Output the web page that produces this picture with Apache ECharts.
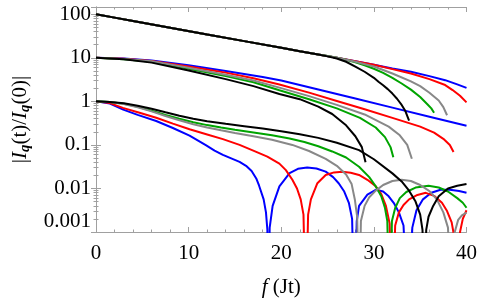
<!DOCTYPE html>
<html><head><meta charset="utf-8">
<script src="https://cdn.jsdelivr.net/npm/echarts@6/dist/echarts.min.js"></script>
<style>html,body{margin:0;padding:0;background:#fff}#c{width:480px;height:303px}</style>
</head><body><div id="c"></div>
<script>
// x tick labels and y tick labels
var xTickLabels = ['0','10','20','30','40'];
var yTickLabels = ['0.001','0.01','0.1','1','10','100'];
var seriesColors = ['#0000ff','#ff0000','#00a400','#888888','#000000'];

// top group (starts at 100)
var topCommon = [[0,100],[2,83.8],[4,70.2],[8,49.2],[12,34.5],[16,24.2],[20,17.0],[22,14.2],[24,11.9]];
var topBlue  = [[26,10.0],[28,8.32],[30,6.92],[32,5.69],[34,4.79],[36,3.80],[37.7,3.07],[39,2.45],[40,2.04]];
var topRed   = [[26,10.0],[28,8.32],[30,6.92],[32,5.50],[34,4.37],[36,3.24],[37.7,2.37],[38.5,1.82],[39.3,1.35],[40,0.95]];
var topGreen = [[25,11.0],[26,10.0],[27,9.02],[28,7.94],[29,6.76],[30,5.62],[31,4.52],[32,3.47],[33,2.57],[34,1.86],[35,1.26],[35.8,0.85],[36.2,0.69],[36.5,0.55]];
var topGray  = [[26,10.0],[28,8.13],[30,6.31],[32,4.37],[34,2.88],[35,2.24],[36,1.58],[37,1.05],[37.5,0.74],[37.9,0.48]];
var topBlack = [[25,10.8],[26,9.66],[27,8.13],[28,6.31],[29,4.79],[30,3.47],[30.5,2.82],[31,2.34],[31.5,1.91],[32,1.51],[32.5,1.15],[33,0.83],[33.4,0.60],[33.8,0.363]];

// middle group (starts at 10)
var midBlue  = [[0,10],[3,9.66],[6,8.71],[10,6.76],[14,5.01],[18,3.63],[20,3.02],[24,1.87],[28,1.16],[32,0.718],[36,0.445],[40,0.275]];
var midRed   = [[0,10],[3,9.55],[6,8.51],[10,6.31],[14,4.57],[17,3.39],[19.8,2.45],[23,1.585],[26,1.023],[29,0.661],[32,0.417],[35,0.263],[36.5,0.191],[37.5,0.138],[38.2,0.1],[38.6,0.069]];
var midGreen = [[0,10],[3,9.33],[6,8.13],[10,5.62],[14,3.80],[17,2.75],[19.8,1.80],[23,1.122],[26,0.692],[28.5,0.417],[30.2,0.251],[31.2,0.151],[31.8,0.089],[32.1,0.052]];
var midGray  = [[0,10],[3,9.44],[6,8.32],[10,5.89],[14,4.07],[17,3.02],[19.8,2.07],[23,1.318],[26,0.832],[29,0.501],[31.6,0.263],[32.8,0.166],[33.6,0.1],[34.1,0.048]];
var midBlack = [[0,10],[3,9.23],[6,7.76],[10,5.13],[14,3.24],[17,2.24],[19.8,1.48],[22,1.122],[24,0.759],[25.5,0.513],[27,0.282],[28,0.158],[28.7,0.089],[29.1,0.040]];

// bottom group (starts at 1)
var botBlue = [[0,1],[1.5,0.891],[2.94,0.647],[4.5,0.49],[6.5,0.355],[8.3,0.245],[10.1,0.163],[11.9,0.0977],[12.8,0.0741],[13.7,0.0589],[14.6,0.049],[15.5,0.0407],[16.2,0.0331],[16.8,0.0251],[17.3,0.017],[17.6,0.0117],[18.1,0.00562],[18.35,0.00282],[18.5,0.00113],[18.6,0.00001],[18.75,0.00126],[19.07,0.00398],[19.8,0.0112],[20.9,0.0224],[21.8,0.0282],[22.8,0.0303],[23.8,0.0288],[24.8,0.0243],[25.6,0.0182],[26.2,0.0132],[26.8,0.0085],[27.3,0.00468],[27.65,0.002],[27.9,0.00001],[28.15,0.00178],[28.4,0.00398],[29.3,0.00724],[30.2,0.00933],[31,0.0085],[31.6,0.0066],[32.2,0.00447],[32.7,0.00282],[33.2,0.00141],[33.7,0.00001],[34.15,0.00126],[34.6,0.00316],[35.3,0.00562],[36.2,0.00794],[37.2,0.00933],[38.2,0.00933],[39.2,0.0087],[40,0.00794]];
var botRed = [[0,1],[1.5,0.912],[2.9,0.708],[4.7,0.55],[6.5,0.421],[8.3,0.309],[10.1,0.229],[12,0.174],[13.7,0.136],[15.5,0.1],[17.3,0.0692],[18.5,0.0537],[19.8,0.0372],[20.5,0.0263],[21.2,0.0158],[21.7,0.01],[22.1,0.00562],[22.4,0.00251],[22.65,0.00001],[22.9,0.00251],[23.2,0.00562],[23.9,0.0132],[24.8,0.0204],[25.7,0.0234],[26.6,0.0243],[27.5,0.0229],[28.4,0.0204],[29.3,0.0158],[30.2,0.0112],[30.8,0.00741],[31.3,0.00398],[31.7,0.00158],[32.0,0.00001],[32.3,0.00141],[32.7,0.00282],[33.2,0.00417],[33.8,0.00562],[34.7,0.00708],[35.6,0.00794],[36.5,0.00676],[37.35,0.00468],[37.9,0.00302],[38.4,0.00166],[38.75,0.00063],[39.0,0.00001],[39.3,0.001],[39.6,0.002],[40,0.00316]];
var botGreen = [[0,1],[1.5,0.966],[3,0.881],[4.5,0.75],[6,0.61],[7.5,0.49],[9,0.398],[10.5,0.331],[12,0.285],[13.5,0.251],[15,0.224],[17,0.193],[19,0.166],[20.9,0.141],[22.5,0.117],[24,0.0933],[25.5,0.0708],[27,0.0513],[28.4,0.0316],[29.5,0.0182],[30.2,0.0112],[30.8,0.0066],[31.2,0.00355],[31.45,0.00178],[31.7,0.00001],[31.95,0.00178],[32.3,0.00355],[32.8,0.006],[33.5,0.0083],[34.5,0.0105],[35.9,0.0115],[37,0.0105],[38,0.0085],[39,0.006],[39.6,0.0047],[40,0.0036]];
var botGray = [[0,1],[1.5,0.966],[3,0.871],[4.5,0.733],[6,0.589],[7.5,0.462],[9,0.367],[10.5,0.299],[12,0.251],[13.5,0.216],[15,0.188],[17,0.158],[19,0.132],[21.2,0.1],[23,0.0724],[24.8,0.0479],[26,0.0331],[27,0.0209],[27.6,0.0126],[27.95,0.0055],[28.2,0.0022],[28.4,0.00001],[28.6,0.00178],[29,0.00398],[29.5,0.0063],[30.2,0.00891],[31,0.012],[32,0.0148],[33,0.0158],[34,0.0148],[35,0.012],[36,0.0087],[36.8,0.00562],[37.5,0.00282],[38,0.00126],[38.4,0.00001],[38.7,0.00095],[39.1,0.0019],[39.5,0.0024],[40,0.0028]];
var botBlack = [[0,1],[1.5,0.973],[3,0.902],[4.5,0.794],[6,0.676],[7.5,0.562],[9,0.468],[10.5,0.398],[12,0.351],[14,0.305],[16,0.269],[18,0.237],[20,0.207],[22,0.176],[24,0.145],[26,0.112],[28.4,0.0759],[30,0.0468],[32,0.0222],[33,0.0145],[33.8,0.0089],[34.5,0.005],[35.0,0.0025],[35.25,0.00112],[35.45,0.00001],[35.65,0.00112],[35.9,0.00224],[36.4,0.00398],[37,0.0066],[38,0.01],[39,0.0115],[40,0.0126]];

var groups = [
  [topCommon.concat(topBlue), topCommon.concat(topRed), topCommon.concat(topGreen), topCommon.concat(topGray), topCommon.concat(topBlack)],
  [midBlue, midRed, midGreen, midGray, midBlack],
  [botBlue, botRed, botGreen, botGray, botBlack]
];

var series = [];
groups.forEach(function (g) {
  g.forEach(function (d, i) {
    series.push({type:'line', data:d, showSymbol:false, symbol:'none', clip:true,
      lineStyle:{color:seriesColors[i], width:2}, itemStyle:{color:seriesColors[i]}, animation:false, z: 2 + i});
  });
});

var FONT = '"Liberation Serif", "DejaVu Serif", serif';
var frame = '#a0a0a0';
function yFmt(v) {
  var e = Math.log(v) / Math.LN10;
  var r = Math.round(e);
  if (Math.abs(e - r) > 1e-6) return '';
  var idx = r + 3;
  return (idx >= 0 && idx < yTickLabels.length) ? yTickLabels[idx] : '';
}
function xFmt(v) {
  var idx = Math.round(v / 10);
  return xTickLabels[idx] !== undefined ? xTickLabels[idx] : '';
}

var chart = echarts.init(document.getElementById('c'), null, {renderer:'canvas'});
chart.setOption({
  animation:false,
  backgroundColor:'#fff',
  grid:{left:96, right:12, top:7, bottom:67, containLabel:false},
  xAxis:[{
    type:'value', min:0, max:40, interval:10, position:'bottom',
    axisLine:{show:true, lineStyle:{color:frame, width:1}},
    axisTick:{show:true, inside:true, length:5, lineStyle:{color:frame}},
    minorTick:{show:true, splitNumber:5, length:2.5, lineStyle:{color:frame}},
    splitLine:{show:false},
    axisLabel:{formatter:xFmt, color:'#000', fontFamily:FONT, fontSize:21, margin:11},
    name:'{i|f} (Jt)', nameLocation:'middle', nameGap:45,
    nameTextStyle:{color:'#000', fontFamily:FONT, fontSize:21, rich:{i:{fontStyle:'italic', fontFamily:FONT, fontSize:21}}}
  },{
    type:'value', min:0, max:40, interval:10, position:'top',
    axisLine:{show:true, lineStyle:{color:frame, width:1}},
    axisTick:{show:true, inside:true, length:5, lineStyle:{color:frame}},
    minorTick:{show:true, splitNumber:5, length:2.5, lineStyle:{color:frame}},
    splitLine:{show:false}, axisLabel:{show:false}
  }],
  yAxis:[{
    type:'log', logBase:10, min:0.001, max:147, position:'left', splitNumber:5,
    axisLine:{show:true, lineStyle:{color:frame, width:1}},
    axisTick:{show:true, inside:true, length:5, lineStyle:{color:frame}},
    minorTick:{show:true, splitNumber:9, length:2.5, lineStyle:{color:frame}},
    splitLine:{show:false},
    axisLabel:{formatter:yFmt, color:'#000', fontFamily:FONT, fontSize:21, margin:5, verticalAlignMinLabel:'bottom'},
    name:'|{i|I}{s|q}(t)/{i|I}{s|q}(0)|', nameLocation:'middle', nameGap:62, nameRotate:90,
    nameTextStyle:{color:'#000', fontFamily:FONT, fontSize:21,
      rich:{i:{fontStyle:'italic', fontFamily:FONT, fontSize:21},
            s:{fontStyle:'italic', fontWeight:'bold', fontFamily:FONT, fontSize:15, padding:[9,0,0,0]}}}
  },{
    type:'log', logBase:10, min:0.001, max:147, position:'right', splitNumber:5,
    axisLine:{show:true, lineStyle:{color:frame, width:1}},
    axisTick:{show:true, inside:true, length:5, lineStyle:{color:frame}},
    minorTick:{show:true, splitNumber:9, length:2.5, lineStyle:{color:frame}},
    splitLine:{show:false}, axisLabel:{show:false}
  }],
  series:series
});
</script></body></html>
